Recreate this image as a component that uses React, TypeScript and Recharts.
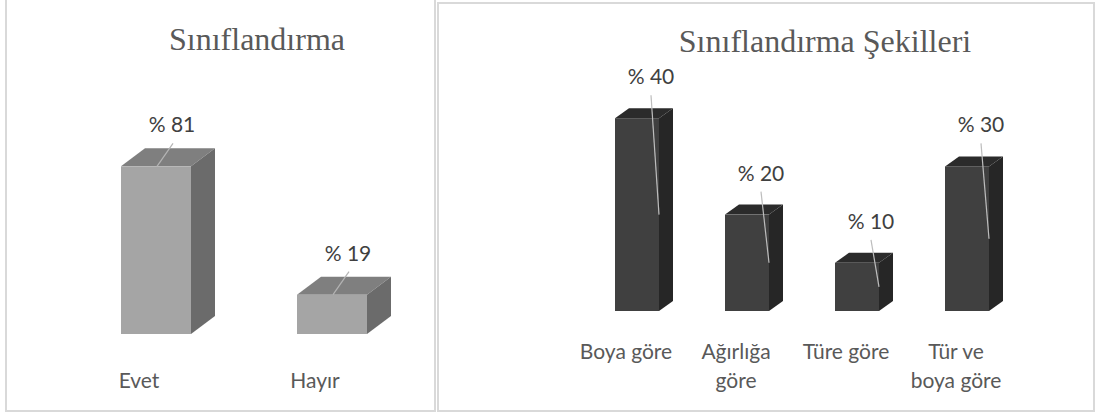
import React from 'react';
import { BarChart, Bar, XAxis, YAxis, LabelList } from 'recharts';

// Left chart: Sınıflandırma
const answerNames = ['Evet', 'Hayır'];
const answerValues = [81, 19];

// Right chart: Sınıflandırma Şekilleri
const methodNames = ['Boya göre', 'Ağırlığa göre', 'Türe göre', 'Tür ve boya göre'];
const methodValues = [40, 20, 10, 30];
const methodTickLines = [['Boya göre'], ['Ağırlığa', 'göre'], ['Türe göre'], ['Tür ve', 'boya göre']];

const answerData = answerNames.map((name, i) => ({ name, value: answerValues[i] }));
const methodData = methodNames.map((name, i) => ({ name, value: methodValues[i], lines: methodTickLines[i] }));

const labelFont = 'Lato, "Noto Sans", sans-serif';
const titleFont = '"Liberation Serif", "DejaVu Serif", serif';

// Excel-style 3D column: front face, top and side
const makeBox = (dx: number, dy: number, front: string, top: string, side: string) => (props: any) => {
    const { x, y, width, height } = props;
    if (!height || height <= 0) return null;
    const r = x + width;
    const b = y + height;
    return (
        <g>
            <polygon points={`${x},${y} ${x + dx},${y - dy} ${r + dx},${y - dy} ${r},${y}`} fill={top} />
            <polygon points={`${r},${y} ${r + dx},${y - dy} ${r + dx},${b - dy} ${r},${b}`} fill={side} />
            <rect x={x} y={y} width={width} height={height} fill={front} />
        </g>
    );
};

const LeftLabel = (props: any) => {
    const { x, y, value } = props;
    return (
        <g>
            <line x1={x + 52} y1={y - 23} x2={x + 36} y2={y} stroke="#b4b4b4" strokeWidth={1.2} />
            <text x={x + 51} y={y - 34} textAnchor="middle" fill="#404040" fontSize={21} fontFamily={labelFont}>
                % {value}
            </text>
        </g>
    );
};

const RightLabel = (props: any) => {
    const { x, y, width, height, value } = props;
    return (
        <g>
            <line x1={x + 36} y1={y - 23} x2={x + width} y2={y + height / 2} stroke="#bdbdbd" strokeWidth={1.2} />
            <text x={x + 36} y={y - 34} textAnchor="middle" fill="#404040" fontSize={21} fontFamily={labelFont}>
                % {value}
            </text>
        </g>
    );
};

const LeftTick = (props: any) => {
    const { x, y, payload } = props;
    return (
        <text x={x - 17} y={y + 54} textAnchor="middle" fill="#595959" fontSize={21} fontFamily={labelFont}>
            {payload.value}
        </text>
    );
};

const RightTick = (props: any) => {
    const { x, y, index } = props;
    const lines = methodTickLines[index] || [];
    return (
        <text x={x - 11} y={y + 48} textAnchor="middle" fill="#595959" fontSize={21} fontFamily={labelFont}>
            {lines.map((line, i) => (
                <tspan key={i} x={x - 11} dy={i === 0 ? 0 : 29}>{line}</tspan>
            ))}
        </text>
    );
};

const LeftBox = makeBox(24, 18, '#a5a5a5', '#7f7f7f', '#6b6b6b');
const RightBox = makeBox(14, 10, '#404040', '#2b2b2b', '#262626');

const App: React.FC = () => {
    return (
        <div style={{ position: 'absolute', left: 0, top: 0, width: 1097, height: 416, background: '#fff', overflow: 'hidden' }}>
            {/* left panel frame */}
            <div style={{ position: 'absolute', left: 5, top: -2, width: 427, height: 412, borderLeft: '2px solid #d9d9d9', borderRight: '2px solid #d9d9d9', borderBottom: '2px solid #d9d9d9' }} />
            {/* right panel frame */}
            <div style={{ position: 'absolute', left: 437, top: 2, width: 654, height: 406, border: '2px solid #d9d9d9' }} />

            <div style={{ position: 'absolute', left: 57, width: 400, top: 23, textAlign: 'center', fontFamily: titleFont, fontSize: 32, lineHeight: '32px', color: '#595959' }}>
                Sınıflandırma
            </div>
            <div style={{ position: 'absolute', left: 625, width: 400, top: 25, textAlign: 'center', fontFamily: titleFont, fontSize: 32, lineHeight: '32px', color: '#595959' }}>
                Sınıflandırma Şekilleri
            </div>

            <div style={{ position: 'absolute', left: 0, top: 0 }}>
                <BarChart width={437} height={416} data={answerData} margin={{ top: 127, right: 17, bottom: 22, left: 68 }}>
                    <XAxis dataKey="name" axisLine={false} tickLine={false} tickSize={0} tickMargin={0} height={60} tick={<LeftTick />} interval={0} />
                    <YAxis hide domain={[0, 100]} />
                    <Bar dataKey="value" barSize={70} shape={LeftBox} isAnimationActive={false}>
                        <LabelList dataKey="value" content={<LeftLabel />} />
                    </Bar>
                </BarChart>
            </div>

            <div style={{ position: 'absolute', left: 437, top: 0 }}>
                <BarChart width={660} height={416} data={methodData} margin={{ top: 70, right: 75, bottom: 45, left: 145 }}>
                    <XAxis dataKey="name" axisLine={false} tickLine={false} tickSize={0} tickMargin={0} height={60} tick={<RightTick />} interval={0} />
                    <YAxis hide domain={[0, 50]} />
                    <Bar dataKey="value" barSize={44} shape={RightBox} isAnimationActive={false}>
                        <LabelList dataKey="value" content={<RightLabel />} />
                    </Bar>
                </BarChart>
            </div>
        </div>
    );
};

export default App;
